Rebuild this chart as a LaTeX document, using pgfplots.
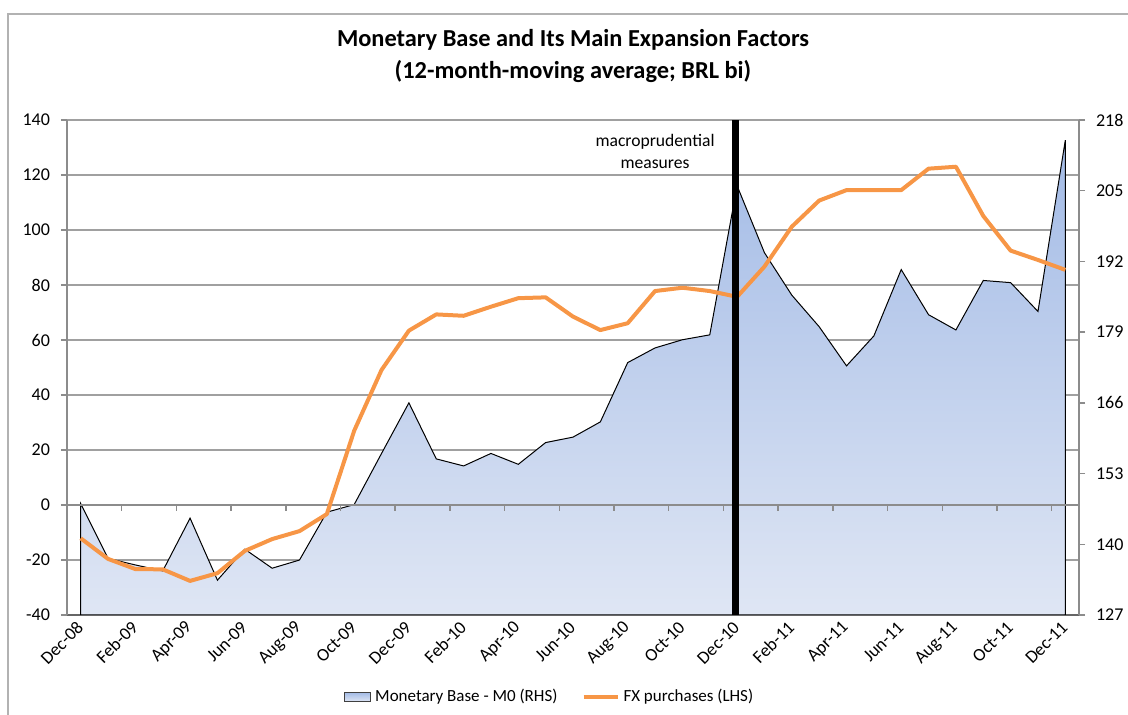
\documentclass[border=0pt]{standalone}
\usepackage{pgfplots}
\pgfplotsset{compat=1.18}
\usepackage{fontspec}
\setmainfont{Carlito}
\definecolor{fxorange}{HTML}{F79646}
\definecolor{areatop}{HTML}{A3BBE6}
\definecolor{areabot}{HTML}{DFE6F4}
\definecolor{gridgray}{HTML}{A0A0A0}
\definecolor{axgray}{HTML}{8C8C8C}
\pgfplotsset{
  base/.style={scale only axis, width=506pt, height=247.5pt,
    xmin=-0.5, xmax=36.5, at={(33.5pt,50pt)}, anchor=south west,
    ticklabel style={font=\fontsize{9}{10}\selectfont},
    /pgf/number format/assume math mode=true,
    clip=true},
}
% Monetary Base - M0 (RHS), BRL bi
\pgfplotstableread{
x mb
0 147.5
1 137.4
2 136.2
3 135.1
4 144.8
5 133.4
6 139.1
7 135.6
8 137.1
9 145.9
10 147.3
11 156.7
12 166.0
13 155.7
14 154.4
15 156.7
16 154.7
17 158.7
18 159.7
19 162.5
20 173.4
21 176.1
22 177.6
23 178.5
24 205.9
25 193.6
26 185.8
27 180.0
28 172.8
29 178.3
30 190.5
31 182.2
32 179.4
33 188.5
34 188.1
35 182.8
36 214.3
}\mbtable
% FX purchases (LHS), BRL bi
\pgfplotstableread{
x fx
0 -12.1
1 -19.6
2 -23.3
3 -23.4
4 -27.6
5 -24.8
6 -16.7
7 -12.4
8 -9.5
9 -3.3
10 27.0
11 49.1
12 63.4
13 69.3
14 68.8
15 72.1
16 75.2
17 75.5
18 68.5
19 63.6
20 66.1
21 77.8
22 79.0
23 77.8
24 75.7
25 86.7
26 101.2
27 110.7
28 114.5
29 114.5
30 114.5
31 122.3
32 123.0
33 105.1
34 92.5
35 89.1
36 85.5
}\fxtable
\begin{document}
\begin{tikzpicture}
\useasboundingbox (0,0) rectangle (564pt,357.5pt);
% outer frame
\draw[color=black!30, line width=1pt] (4pt,0) -- (4pt,350.5pt) -- (564pt,350.5pt);
% title
\node[font=\fontsize{12.2}{14}\selectfont\bfseries] at (286.5pt,337.5pt) {Monetary Base and Its Main Expansion Factors};
\node[font=\fontsize{12.2}{14}\selectfont\bfseries] at (286.5pt,321.5pt) {(12-month-moving average; BRL bi)};
% axis 1: left scale, grid, x labels
\begin{axis}[base,
  ymin=-40, ymax=140, ytick={-40,-20,...,140},
  ymajorgrids, grid style={gridgray, line width=0.75pt},
  axis y line*=left, axis x line*=bottom,
  axis line style={axgray, line width=0.75pt},
  x axis line style={black!60, line width=1pt},
  every tick/.style={axgray, line width=0.75pt},
  tick align=outside, major tick length=3pt,
  xtick={0,2,...,36},
  xticklabels={Dec-08,Feb-09,Apr-09,Jun-09,Aug-09,Oct-09,Dec-09,Feb-10,Apr-10,Jun-10,Aug-10,Oct-10,Dec-10,Feb-11,Apr-11,Jun-11,Aug-11,Oct-11,Dec-11},
  x tick style={draw=none},
  xticklabel style={rotate=45, anchor=east, xshift=2pt, yshift=-1pt},
  yticklabel style={xshift=-2pt},
]
\end{axis}
% axis 2: right scale, monetary base area
\begin{axis}[base,
  ymin=127, ymax=218, ytick={127,140,...,218},
  axis y line*=right, axis x line=none,
  axis line style={axgray, line width=0.75pt},
  every tick/.style={axgray, line width=0.75pt},
  tick align=outside, major tick length=3pt,
  yticklabel style={xshift=2pt},
]
\addplot[draw=black, line width=0.5pt, top color=areatop, bottom color=areabot] table[x=x, y=mb] {\mbtable} \closedcycle;
\end{axis}
% axis 3: left scale overlay, FX line, legend
\begin{axis}[base,
  ymin=-40, ymax=140, hide axis,
  legend style={at={(0.478,-0.1657)}, anchor=center, draw=none, fill=none,
    font=\fontsize{8.5}{10}\selectfont, legend columns=2,
    /tikz/every even column/.append style={column sep=10pt}},
  legend cell align=left,
]
\draw[axgray, line width=0.75pt] (axis cs:-0.5,0) -- (axis cs:36.5,0);
\pgfplotsinvokeforeach{1.5,3.5,5.5,7.5,9.5,11.5,13.5,15.5,17.5,19.5,21.5,23.5,25.5,27.5,29.5,31.5,33.5,35.5}{
  \draw[axgray, line width=0.75pt] (axis cs:#1,0) -- ([yshift=-3pt]axis cs:#1,0);
}
\addlegendimage{legend image code/.code={\draw[top color=areatop, bottom color=areabot, draw=black!75, line width=0.5pt] (0pt,-2.3pt) rectangle (13pt,2.3pt);}}
\addlegendentry{Monetary Base - M0 (RHS)}
\addplot[fxorange, line width=2pt, line join=round] table[x=x, y=fx] {\fxtable};
\addlegendentry{FX purchases (LHS)}
\addplot[black, line width=3.5pt, forget plot] coordinates {(23.93,-40) (23.93,140)};
\node[align=center, font=\fontsize{8.8}{11}\selectfont] at (axis cs:21,128.5) {macroprudential\\measures};
\end{axis}
\end{tikzpicture}
\end{document}
